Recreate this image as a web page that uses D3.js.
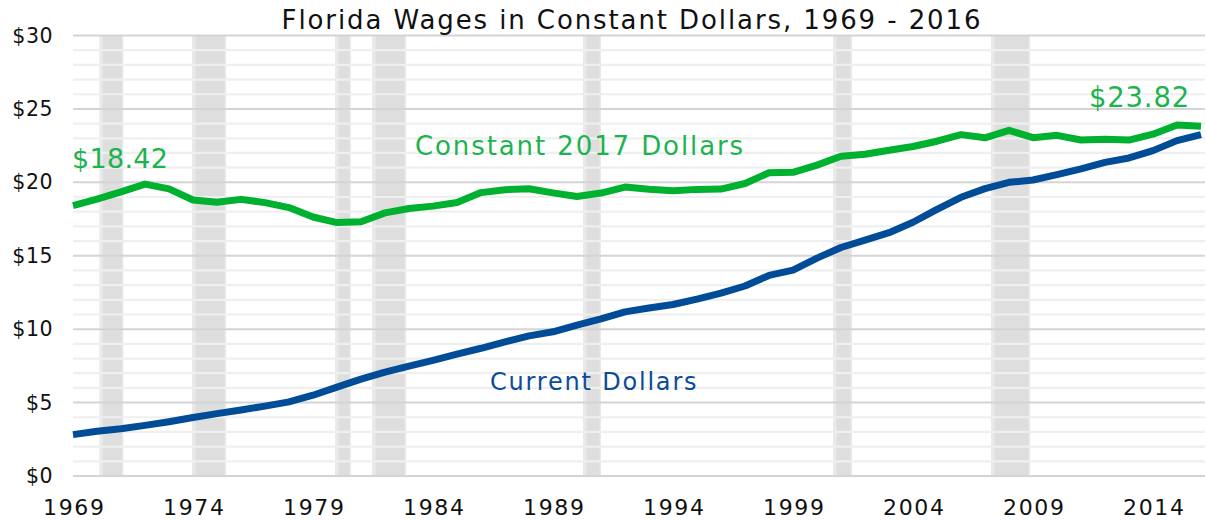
<!DOCTYPE html>
<html>
<head>
<meta charset="utf-8">
<script src="https://cdn.jsdelivr.net/npm/d3@7"></script>
<style>
  html, body { margin: 0; padding: 0; background: #fff; }
  svg { display: block; font-family: "DejaVu Sans", sans-serif; }
</style>
</head>
<body>
<div id="chart"></div>
<script>
// Florida wages data
const years = d3.range(1969, 2017);
const constantDollars = [
  18.42, 18.85, 19.35, 19.88, 19.55, 18.8, 18.64, 18.84, 18.62, 18.28,
  17.64, 17.26, 17.32, 17.92, 18.22, 18.38, 18.63, 19.3, 19.5, 19.56,
  19.28, 19.03, 19.27, 19.68, 19.53, 19.42, 19.52, 19.54, 19.92, 20.65,
  20.68, 21.17, 21.78, 21.91, 22.18, 22.44, 22.8, 23.25, 23.03, 23.54,
  23.04, 23.2, 22.88, 22.94, 22.88, 23.28, 23.9, 23.82
];
const currentDollars = [
  2.82, 3.05, 3.22, 3.45, 3.7, 3.98, 4.25, 4.5, 4.76, 5.05,
  5.5, 6.05, 6.6, 7.08, 7.48, 7.88, 8.3, 8.7, 9.14, 9.54,
  9.82, 10.28, 10.7, 11.18, 11.44, 11.68, 12.05, 12.46, 12.94, 13.66,
  14.02, 14.84, 15.56, 16.06, 16.57, 17.28, 18.16, 18.98, 19.57, 20.0,
  20.16, 20.53, 20.92, 21.36, 21.66, 22.16, 22.84, 23.25
];
// recession periods (fractional years)
const recessionStart = [1970.1, 1973.96, 1979.92, 1981.46, 1990.25, 2000.67, 2007.25];
const recessionEnd = [1971.1, 1975.38, 1980.58, 1982.88, 1991.0, 2001.46, 2008.88];
const xTickYears = [1969, 1974, 1979, 1984, 1989, 1994, 1999, 2004, 2009, 2014];
const yTicks = [0, 5, 10, 15, 20, 25, 30];

const width = 1206, height = 522;
const plot = { left: 73, right: 1205, top: 35.5, bottom: 476 };

const svg = d3.select("#chart").append("svg")
  .attr("width", width).attr("height", height);

const x = d3.scaleLinear().domain([1969, 2016]).range([plot.left, 1201]);
const y = d3.scaleLinear().domain([0, 30]).range([plot.bottom, plot.top]);

// recession bands
const bands = svg.append("g");
recessionStart.forEach((s, i) => {
  const x0 = x(s), x1 = x(recessionEnd[i]);
  bands.append("rect")
    .attr("x", x0).attr("y", plot.top)
    .attr("width", x1 - x0).attr("height", plot.bottom - plot.top)
    .attr("fill", "#e9e9e9");
  bands.append("rect")
    .attr("x", x0 + 3.5).attr("y", plot.top)
    .attr("width", Math.max(0, x1 - x0 - 5)).attr("height", plot.bottom - plot.top)
    .attr("fill", "#dedede");
});

// gridlines: minor every $1, major every $5
const grid = svg.append("g");
grid.selectAll("line.minor")
  .data(d3.range(0, 31).filter(v => v % 5 !== 0))
  .join("line")
  .attr("class", "minor")
  .attr("x1", plot.left).attr("x2", plot.right)
  .attr("y1", d => y(d)).attr("y2", d => y(d))
  .attr("stroke", "#efefef").attr("stroke-width", 2.2);
grid.selectAll("line.major")
  .data(yTicks)
  .join("line")
  .attr("class", "major")
  .attr("x1", plot.left).attr("x2", plot.right)
  .attr("y1", d => y(d)).attr("y2", d => y(d))
  .attr("stroke", "#d4d4d4").attr("stroke-width", 2);

// y axis labels
const yAxis = svg.append("g")
  .attr("transform", `translate(${plot.left - 20},0)`)
  .call(d3.axisLeft(y).tickValues(yTicks).tickFormat(d => "$" + d).tickSize(0).tickPadding(0));
yAxis.select(".domain").remove();
yAxis.selectAll("text")
  .attr("font-family", "DejaVu Sans").attr("font-size", 20.5).attr("fill", "#111")
  .attr("letter-spacing", 0.5);

// x axis labels
const xAxis = svg.append("g")
  .attr("transform", `translate(0,${plot.bottom})`)
  .call(d3.axisBottom(x).tickValues(xTickYears).tickFormat(d3.format("d")).tickSize(0).tickPadding(23));
xAxis.select(".domain").remove();
xAxis.selectAll("text")
  .attr("font-family", "DejaVu Sans").attr("font-size", 22).attr("fill", "#111")
  .attr("letter-spacing", 1.6)
  .attr("dx", 0.8);

// lines
const line = d3.line().x((d, i) => x(years[i])).y(d => y(d));
svg.append("path")
  .datum(currentDollars)
  .attr("d", line)
  .attr("fill", "none").attr("stroke", "#004c97").attr("stroke-width", 7)
  .attr("stroke-linejoin", "round");
svg.append("path")
  .datum(constantDollars)
  .attr("d", line)
  .attr("fill", "none").attr("stroke", "#00b02f").attr("stroke-width", 7)
  .attr("stroke-linejoin", "round");

// title
svg.append("text")
  .attr("x", 632).attr("y", 29)
  .attr("text-anchor", "middle")
  .attr("font-size", 26).attr("fill", "#111")
  .attr("letter-spacing", 1.9)
  .text("Florida Wages in Constant Dollars, 1969 - 2016");

// annotations
svg.append("text")
  .attr("x", 72).attr("y", 168)
  .attr("font-size", 27).attr("fill", "#1db34f")
  .attr("letter-spacing", 0.3)
  .text("$" + constantDollars[0].toFixed(2));
svg.append("text")
  .attr("x", 1190).attr("y", 107)
  .attr("text-anchor", "end")
  .attr("font-size", 27.5).attr("fill", "#1db34f")
  .attr("letter-spacing", 0.8)
  .text("$" + constantDollars[constantDollars.length - 1].toFixed(2));
svg.append("text")
  .attr("x", 415).attr("y", 155)
  .attr("font-size", 26).attr("fill", "#1db34f")
  .attr("letter-spacing", 1.9)
  .text("Constant 2017 Dollars");
svg.append("text")
  .attr("x", 490).attr("y", 390)
  .attr("font-size", 24).attr("fill", "#0b4c97")
  .attr("letter-spacing", 1.8)
  .text("Current Dollars");
</script>
</body>
</html>
